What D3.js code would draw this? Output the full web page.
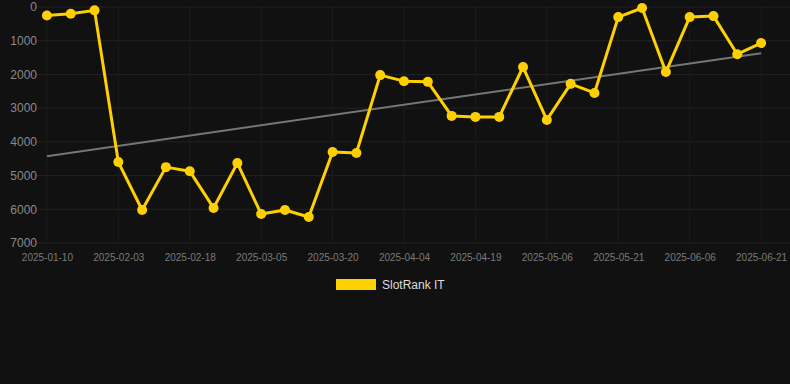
<!DOCTYPE html>
<html>
<head>
<meta charset="utf-8">
<script src="https://cdn.jsdelivr.net/npm/d3@7"></script>
<style>
  html, body { margin: 0; padding: 0; background: #111111; }
  svg { display: block; font-family: "Liberation Sans", Arial, sans-serif; }
</style>
</head>
<body>
<div id="chart"></div>
<script>
// dates (only every third one is labelled on the axis)
var dates = [
  "2025-01-10","2025-01-18","2025-01-26","2025-02-03","2025-02-08","2025-02-13",
  "2025-02-18","2025-02-23","2025-02-28","2025-03-05","2025-03-10","2025-03-15",
  "2025-03-20","2025-03-25","2025-03-30","2025-04-04","2025-04-09","2025-04-14",
  "2025-04-19","2025-04-24","2025-04-29","2025-05-06","2025-05-11","2025-05-16",
  "2025-05-21","2025-05-26","2025-06-01","2025-06-06","2025-06-11","2025-06-16",
  "2025-06-21"
];
// rank values (lower = better, axis is reversed)
var ranks = [
  250, 200, 100, 4600, 6020, 4750, 4870, 5960, 4630, 6140, 6020, 6230,
  4300, 4330, 2020, 2200, 2220, 3230, 3260, 3260, 1780, 3350, 2280, 2550,
  300, 30, 1930, 300, 270, 1400, 1070
];
var yTicks = [0, 1000, 2000, 3000, 4000, 5000, 6000, 7000];
var seriesName = "SlotRank IT";

var W = 790, H = 384;
var m = {left: 35, right: 773, top: 7, bottom: 243};

var svg = d3.select("#chart").append("svg")
  .attr("width", W)
  .attr("height", H);

svg.append("rect")
  .attr("width", W).attr("height", H)
  .attr("fill", "#111111");

var x = d3.scalePoint()
  .domain(dates)
  .range([m.left, m.right])
  .padding(0.5);

var y = d3.scaleLinear()
  .domain([0, 7000])
  .range([m.top, m.bottom]);

var labelled = dates.filter((d, i) => i % 3 == 0);

// grid
svg.append("g").selectAll("line").data(yTicks).join("line")
  .attr("x1", m.left).attr("x2", W)
  .attr("y1", d => y(d)).attr("y2", d => y(d))
  .attr("stroke", "#222222").attr("stroke-width", 1);
svg.append("g").selectAll("line").data(labelled).join("line")
  .attr("x1", d => x(d)).attr("x2", d => x(d))
  .attr("y1", m.top).attr("y2", m.bottom)
  .attr("stroke", "#1c1c1c").attr("stroke-width", 1);

// y axis
var yAxis = svg.append("g")
  .attr("transform", "translate(" + (m.left + 2) + ",0)")
  .call(d3.axisLeft(y).tickValues(yTicks).tickFormat(d3.format("d")).tickSize(0).tickPadding(0));
yAxis.select(".domain").remove();
yAxis.selectAll("text")
  .attr("fill", "#8a8a8a")
  .attr("font-size", 12);

// x axis
var xAxis = svg.append("g")
  .attr("transform", "translate(0," + m.bottom + ")")
  .call(d3.axisBottom(x).tickValues(labelled).tickSize(0).tickPadding(11));
xAxis.select(".domain").remove();
xAxis.selectAll("text")
  .attr("fill", "#7a7a7a")
  .attr("font-size", 10);

// linear trend (least squares on index)
var n = ranks.length;
var mx = d3.mean(ranks, (d, i) => i);
var my = d3.mean(ranks);
var sxy = d3.sum(ranks, (d, i) => (i - mx) * (d - my));
var sxx = d3.sum(ranks, (d, i) => (i - mx) * (i - mx));
var slope = sxy / sxx, icpt = my - slope * mx;
svg.append("line")
  .attr("x1", x(dates[0])).attr("y1", y(icpt))
  .attr("x2", x(dates[n - 1])).attr("y2", y(icpt + slope * (n - 1)))
  .attr("stroke", "#767676").attr("stroke-width", 2);

// series
var line = d3.line()
  .x((d, i) => x(dates[i]))
  .y(d => y(d));
svg.append("path")
  .datum(ranks)
  .attr("d", line)
  .attr("fill", "none")
  .attr("stroke", "#ffd000")
  .attr("stroke-width", 3)
  .attr("stroke-linejoin", "round");
svg.append("g").selectAll("circle").data(ranks).join("circle")
  .attr("cx", (d, i) => x(dates[i]))
  .attr("cy", d => y(d))
  .attr("r", 5)
  .attr("fill", "#ffd000");

// legend
var lg = svg.append("g").attr("transform", "translate(336,279)");
lg.append("rect")
  .attr("width", 40).attr("height", 11)
  .attr("fill", "#ffd000");
lg.append("text")
  .attr("x", 46).attr("y", 10)
  .attr("fill", "#dddddd")
  .attr("font-size", 12)
  .text(seriesName);
</script>
</body>
</html>
